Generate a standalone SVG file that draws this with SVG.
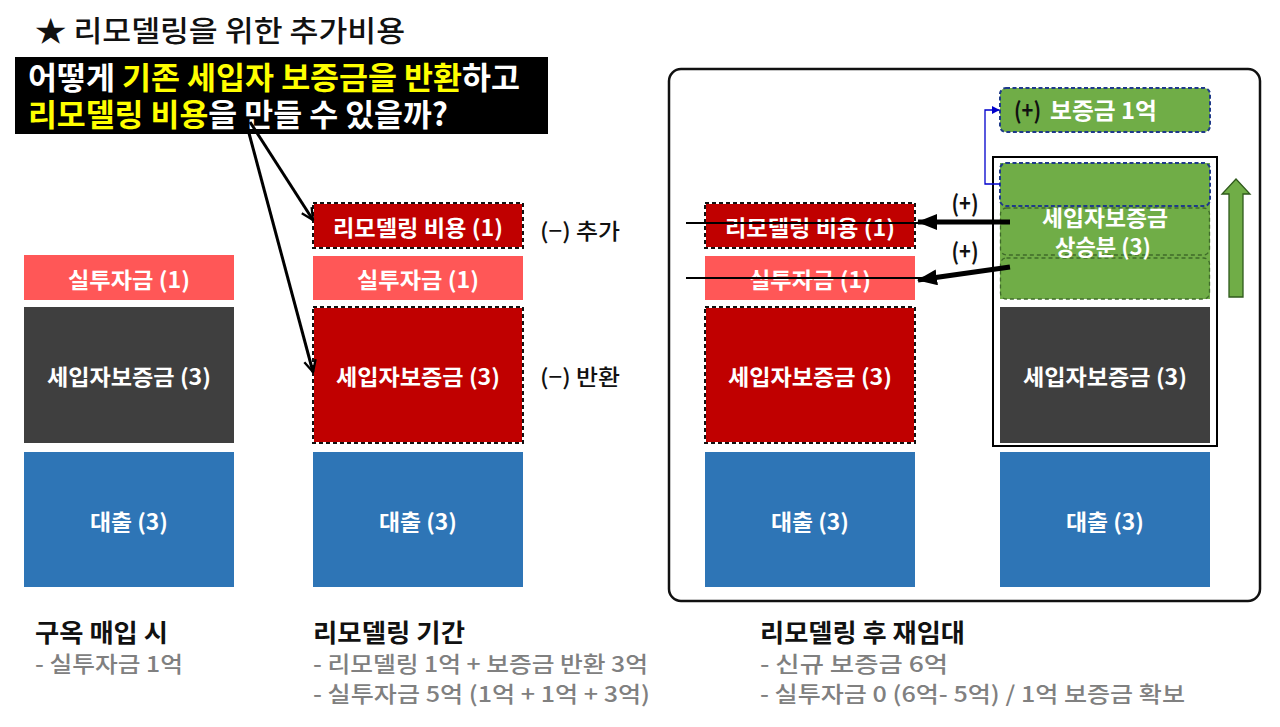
<svg xmlns="http://www.w3.org/2000/svg" width="1280" height="727" viewBox="0 0 1280 727">
<defs>
<style>
text{font-family:"Noto Sans CJK KR","Noto Sans",sans-serif;}
.w{fill:#fff;font-weight:700;font-size:22px;text-anchor:middle;dominant-baseline:central;}
.inv{fill:#ff5757;}
.ten{fill:#3f3f3f;}
.loan{fill:#2e75b6;}
.dr{fill:#c00000;stroke:#fff;stroke-width:2;}
.drd{fill:none;stroke:#111;stroke-width:2;stroke-dasharray:4 3;}
.g{fill:#70ad47;}
.gd{fill:none;stroke:#3f6b2a;stroke-width:1.3;stroke-dasharray:4 3;}
.bd{fill:none;stroke:#1f3a8a;stroke-width:2;stroke-dasharray:4 2.5;}
.lbl{fill:#111;font-size:22px;font-weight:500;}
.hd{fill:#111;font-size:25px;font-weight:700;}
.sub{fill:#808080;font-size:22px;font-weight:500;}
.hl{fill:#ffff00;}
</style>
<marker id="open" viewBox="0 0 12 12" refX="11" refY="6" markerWidth="14" markerHeight="14" markerUnits="userSpaceOnUse" orient="auto">
<path d="M1,1 L11,6 L1,11" fill="none" stroke="#000" stroke-width="2"/>
</marker>
<marker id="thick" viewBox="0 0 20 16" refX="19" refY="8" markerWidth="20" markerHeight="16" markerUnits="userSpaceOnUse" orient="auto">
<path d="M0,0 L20,8 L0,16 Z" fill="#000"/>
</marker>
<marker id="blue" viewBox="0 0 10 10" refX="9" refY="5" markerWidth="8" markerHeight="8" markerUnits="userSpaceOnUse" orient="auto">
<path d="M0,0 L10,5 L0,10 Z" fill="#0000cc"/>
</marker>
</defs>
<rect width="1280" height="727" fill="#fff"/>

<g id="title">
<text x="35" y="42" textLength="370" lengthAdjust="spacingAndGlyphs" style="font-size:29px;font-weight:500;fill:#111">★ 리모델링을 위한 추가비용</text>
</g>
<g id="question">
<rect x="15" y="57" width="533" height="77" fill="#000"/>
<text x="28" y="89" textLength="492" lengthAdjust="spacingAndGlyphs" style="font-size:31px;font-weight:700;fill:#fff">어떻게 <tspan class="hl">기존 세입자 보증금을 반환</tspan>하고</text>
<text x="28" y="126" textLength="420" lengthAdjust="spacingAndGlyphs" style="font-size:31px;font-weight:700;fill:#fff"><tspan class="hl">리모델링 비용</tspan>을 만들 수 있을까?</text>
</g>

<g id="outer-frame">
<rect x="669" y="69" width="591" height="532" rx="12" fill="none" stroke="#111" stroke-width="2.5"/>
</g>

<g id="col1">
<g id="c1-invest"><rect class="inv" x="24" y="255" width="210" height="45"/><text class="w" x="129" y="278" textLength="122" lengthAdjust="spacingAndGlyphs">실투자금 (1)</text></g>
<g id="c1-tenant"><rect class="ten" x="24" y="307" width="210" height="136"/><text class="w" x="129" y="375" textLength="164" lengthAdjust="spacingAndGlyphs">세입자보증금 (3)</text></g>
<g id="c1-loan"><rect class="loan" x="24" y="452" width="210" height="135"/><text class="w" x="129" y="520" textLength="78" lengthAdjust="spacingAndGlyphs">대출 (3)</text></g>
</g>

<g id="col2">
<g id="c2-remodel"><rect class="dr" x="313" y="203" width="210" height="45"/><rect class="drd" x="313" y="203" width="210" height="45"/><text class="w" x="418" y="226" textLength="170" lengthAdjust="spacingAndGlyphs">리모델링 비용 (1)</text></g>
<g id="c2-invest"><rect class="inv" x="313" y="256" width="210" height="44"/><text class="w" x="418" y="278" textLength="122" lengthAdjust="spacingAndGlyphs">실투자금 (1)</text></g>
<g id="c2-tenant"><rect class="dr" x="313" y="307" width="210" height="136"/><rect class="drd" x="313" y="307" width="210" height="136"/><text class="w" x="418" y="375" textLength="164" lengthAdjust="spacingAndGlyphs">세입자보증금 (3)</text></g>
<g id="c2-loan"><rect class="loan" x="313" y="452" width="210" height="135"/><text class="w" x="418" y="520" textLength="78" lengthAdjust="spacingAndGlyphs">대출 (3)</text></g>
<text class="lbl" x="540" y="239" textLength="80" lengthAdjust="spacingAndGlyphs">(−) 추가</text>
<text class="lbl" x="540" y="385" textLength="80" lengthAdjust="spacingAndGlyphs">(−) 반환</text>
</g>

<g id="col3">
<g id="c3-remodel"><rect class="dr" x="705" y="203" width="210" height="45"/><rect class="drd" x="705" y="203" width="210" height="45"/><text class="w" x="810" y="226" textLength="170" lengthAdjust="spacingAndGlyphs">리모델링 비용 (1)</text></g>
<g id="c3-invest"><rect class="inv" x="705" y="256" width="210" height="44"/><text class="w" x="810" y="278" textLength="122" lengthAdjust="spacingAndGlyphs">실투자금 (1)</text></g>
<g id="c3-tenant"><rect class="dr" x="705" y="307" width="210" height="136"/><rect class="drd" x="705" y="307" width="210" height="136"/><text class="w" x="810" y="375" textLength="164" lengthAdjust="spacingAndGlyphs">세입자보증금 (3)</text></g>
<g id="c3-loan"><rect class="loan" x="705" y="452" width="210" height="135"/><text class="w" x="810" y="520" textLength="78" lengthAdjust="spacingAndGlyphs">대출 (3)</text></g>
</g>

<g id="col4">
<rect x="993" y="157" width="224" height="289" fill="none" stroke="#000" stroke-width="2"/>
<g id="c4-deposit1"><rect class="g" x="1000" y="88" width="210" height="44" rx="6"/><rect class="bd" x="1000" y="88" width="210" height="44" rx="6"/>
<text x="1014" y="119" textLength="27" lengthAdjust="spacingAndGlyphs" style="font-size:23px;font-weight:700;fill:#111">(+)</text>
<text x="1050" y="119" textLength="107" lengthAdjust="spacingAndGlyphs" style="font-size:23px;font-weight:700;fill:#fff">보증금 1억</text></g>
<g id="c4-increase">
<rect class="g" x="1000" y="163" width="210" height="136"/>
<rect class="gd" x="1000.5" y="208" width="209" height="47" rx="6"/>
<rect class="gd" x="1000.5" y="258" width="209" height="41" rx="6"/>
<rect class="bd" x="1000" y="163" width="210" height="43" rx="6"/>
<text class="w" x="1105" y="216" textLength="126" lengthAdjust="spacingAndGlyphs">세입자보증금</text>
<text class="w" x="1103" y="245" textLength="96" lengthAdjust="spacingAndGlyphs">상승분 (3)</text>
</g>
<g id="c4-tenant"><rect class="ten" x="1000" y="307" width="210" height="136"/><text class="w" x="1105" y="375" textLength="164" lengthAdjust="spacingAndGlyphs">세입자보증금 (3)</text></g>
<g id="c4-loan"><rect class="loan" x="1000" y="452" width="210" height="135"/><text class="w" x="1105" y="520" textLength="78" lengthAdjust="spacingAndGlyphs">대출 (3)</text></g>
<g id="up-arrow"><path d="M1236,179 L1250,194 L1243,194 L1243,297 L1229,297 L1229,194 L1222,194 Z" fill="#70ad47" stroke="#2f5a1c" stroke-width="1.3"/></g>
<text x="965" y="212" textLength="27" lengthAdjust="spacingAndGlyphs" style="font-size:23px;font-weight:700;fill:#111" text-anchor="middle">(+)</text>
<text x="965" y="260" textLength="27" lengthAdjust="spacingAndGlyphs" style="font-size:23px;font-weight:700;fill:#111" text-anchor="middle">(+)</text>
</g>

<g id="connectors">
<line x1="250" y1="122" x2="313" y2="220" stroke="#000" stroke-width="3" marker-end="url(#open)"/>
<line x1="246" y1="122" x2="313" y2="372" stroke="#000" stroke-width="3" marker-end="url(#open)"/>
<line x1="686" y1="223" x2="930" y2="223" stroke="#000" stroke-width="2"/>
<line x1="686" y1="278" x2="930" y2="278" stroke="#000" stroke-width="2"/>
<line x1="1010" y1="222" x2="918" y2="222" stroke="#000" stroke-width="5" marker-end="url(#thick)"/>
<line x1="1010" y1="267" x2="918" y2="280" stroke="#000" stroke-width="5" marker-end="url(#thick)"/>
<polyline points="1000,184 985,184 985,110 999,110" fill="none" stroke="#0000cc" stroke-width="1.3" marker-end="url(#blue)"/>
</g>

<g id="notes">
<text class="hd" x="35" y="642" textLength="133" lengthAdjust="spacingAndGlyphs">구옥 매입 시</text>
<text class="sub" x="35" y="672" textLength="148" lengthAdjust="spacingAndGlyphs">- 실투자금 1억</text>
<text class="hd" x="313" y="642" textLength="152" lengthAdjust="spacingAndGlyphs">리모델링 기간</text>
<text class="sub" x="313" y="672" textLength="335" lengthAdjust="spacingAndGlyphs">- 리모델링 1억 + 보증금 반환 3억</text>
<text class="sub" x="313" y="702" textLength="337" lengthAdjust="spacingAndGlyphs">- 실투자금 5억 (1억 + 1억 + 3억)</text>
<text class="hd" x="760" y="642" textLength="205" lengthAdjust="spacingAndGlyphs">리모델링 후 재임대</text>
<text class="sub" x="760" y="672" textLength="188" lengthAdjust="spacingAndGlyphs">- 신규 보증금 6억</text>
<text class="sub" x="760" y="702" textLength="425" lengthAdjust="spacingAndGlyphs">- 실투자금 0 (6억- 5억) / 1억 보증금 확보</text>
</g>
</svg>
